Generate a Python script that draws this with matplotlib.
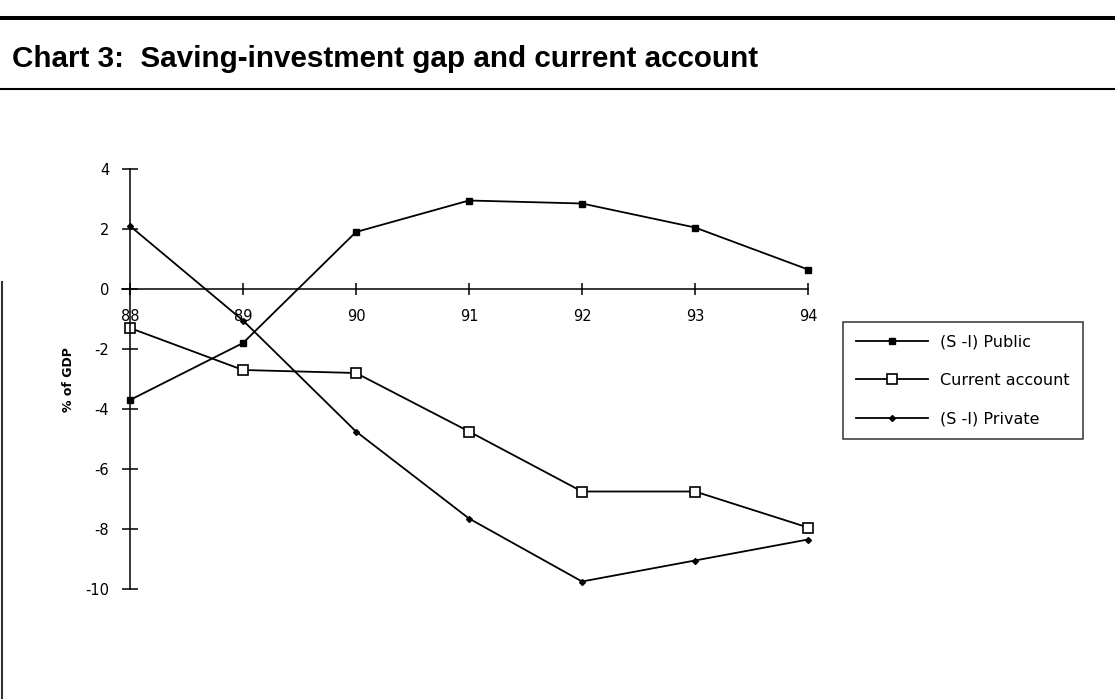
import matplotlib
matplotlib.use("Agg")
import matplotlib.pyplot as plt
from matplotlib.lines import Line2D

years = [88, 89, 90, 91, 92, 93, 94]
public = [-3.7, -1.8, 1.9, 2.95, 2.85, 2.05, 0.65]
current = [-1.3, -2.7, -2.8, -4.75, -6.75, -6.75, -7.95]
private = [2.1, -1.05, -4.75, -7.65, -9.75, -9.05, -8.35]

y_ticks = [-10, -8, -6, -4, -2, 0, 2, 4]
x_labels = ["88", "89", "90", "91", "92", "93", "94"]

title = "Chart 3:  Saving-investment gap and current account"

W, H = 1115, 699
fig = plt.figure(figsize=(W / 100, H / 100), dpi=100)

# frame lines of the title bar
fig.add_artist(Line2D([0, 1], [1 - 18 / H, 1 - 18 / H], color="black", lw=2.9))
fig.add_artist(Line2D([0, 1], [1 - 89 / H, 1 - 89 / H], color="black", lw=1.5))
fig.add_artist(Line2D([1.5 / W, 1.5 / W], [0, 1 - 282 / H], color="#333333", lw=1.5))
fig.text(12 / W, 1 - 59 / H, title, fontsize=21.3, fontweight="bold",
         family="Liberation Sans", va="center", ha="left")

# axes: 88 -> x=130px, 94 -> x=808px ; 4 -> y=169px, -10 -> y=589px
left_px = 130 - 0.07 * 113
ax = fig.add_axes([left_px / W, 1 - 589 / H, (808 - left_px) / W, 420 / H])
ax.set_xlim(87.93, 94)
ax.set_ylim(-10, 4)

ax.spines["top"].set_visible(False)
ax.spines["right"].set_visible(False)
ax.spines["bottom"].set_position(("data", 0))
ax.spines["left"].set_position(("data", 88))
for s in ("bottom", "left"):
    ax.spines[s].set_linewidth(1.1)

ax.set_xticks(years)
ax.set_xticklabels(x_labels)
ax.set_yticks(y_ticks)
ax.set_yticklabels([str(v) for v in y_ticks])
ax.tick_params(axis="x", direction="inout", length=9, width=1.1, pad=10, labelsize=10.5)
ax.tick_params(axis="y", direction="inout", length=12, width=1.1, pad=9, labelsize=10.5)
for lab in ax.get_xticklabels() + ax.get_yticklabels():
    lab.set_family("DejaVu Sans")

ax.plot(years, public, color="black", lw=1.3, marker="s", ms=5,
        mfc="black", mec="black", clip_on=False, label="(S -I) Public")
ax.plot(years, current, color="black", lw=1.3, marker="s", ms=7.5,
        mfc="white", mec="black", mew=1.2, clip_on=False, label="Current account")
ax.plot(years, private, color="black", lw=1.3, marker="D", ms=3,
        mfc="black", mec="black", clip_on=False, label="(S -I) Private")

fig.text(68 / W, 1 - 380 / H, "% of GDP", rotation=90, fontsize=9,
         fontweight="bold", ha="center", va="center")

leg = ax.legend(loc="upper left", bbox_to_anchor=(843 / W, 1 - 322 / H),
                bbox_transform=fig.transFigure, fontsize=11.5, frameon=True,
                fancybox=False, edgecolor="black", handlelength=4.5,
                handletextpad=0.8, labelspacing=1.45, borderpad=0.8,
                borderaxespad=0)
leg.get_frame().set_linewidth(1.1)

fig.savefig("out.png", dpi=100)
